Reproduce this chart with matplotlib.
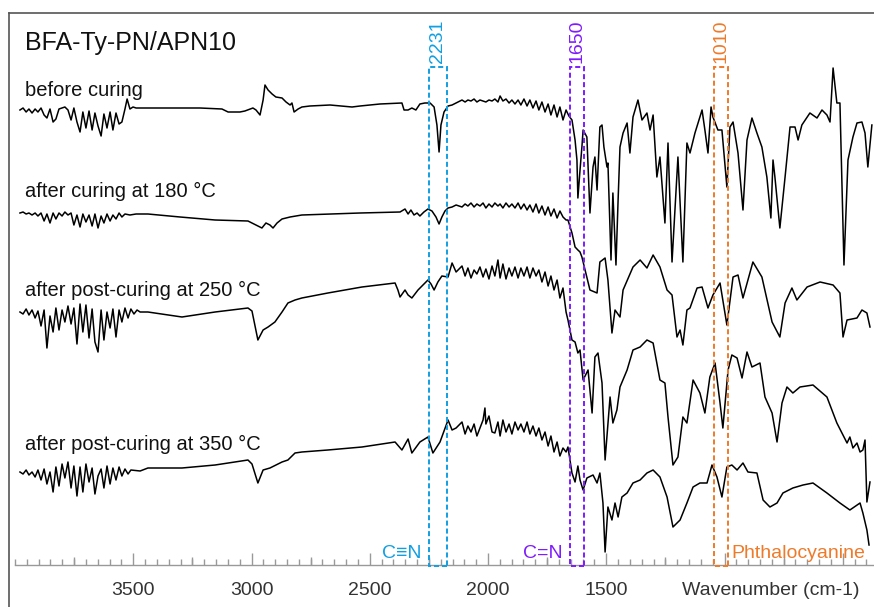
import numpy as np
import matplotlib.pyplot as plt
from matplotlib.patches import Rectangle
from matplotlib.lines import Line2D
from matplotlib.ticker import MultipleLocator

plt.rcParams['font.family'] = ['Liberation Sans', 'DejaVu Sans']

# spectra: (wavenumber, relative transmittance in a.u.)
before_curing = [
    (3979, 0), (3966, 2), (3953, -2), (3941, 1), (3928, -3), (3915, 1), (3903, -2), (3890, 2), (3877, -5), (3865, -8),
    (3852, 1), (3839, -12), (3827, -9), (3814, 1), (3801, 2), (3789, 3), (3776, 0), (3763, -10), (3751, 2), (3738, -12),
    (3725, -22), (3713, -2), (3700, -18), (3687, -1), (3674, -20), (3662, -3), (3649, -16), (3636, -26), (3624, -4), (3611, -18),
    (3598, -2), (3586, -20), (3573, -3), (3560, -14), (3548, -12), (3535, 1), (3526, 11), (3514, 1), (3501, 3), (3488, 2),
    (3429, 2), (3302, 2), (3218, 2), (3125, 1), (3099, -2), (3049, -2), (3028, -1), (3006, 1), (2994, 2), (2981, 0),
    (2964, -5), (2951, 10), (2943, 25), (2930, 20), (2913, 16), (2897, 13), (2871, 12), (2854, 8), (2837, 5), (2829, 7),
    (2820, -2), (2803, 1), (2787, 3), (2753, 4), (2668, 5), (2575, 3), (2541, 4), (2457, 6), (2364, 7), (2355, 0),
    (2338, 0), (2322, 2), (2305, 0), (2288, 6), (2267, 7), (2245, 7), (2228, 3), (2216, -15), (2207, -42), (2199, -15),
    (2186, -2), (2169, 4), (2152, 5), (2135, 7), (2110, 10), (2097, 8), (2085, 10), (2072, 9), (2059, 11), (2047, 8),
    (2034, 10), (2021, 9), (2009, 8), (1996, 10), (1983, 9), (1971, 11), (1958, 8), (1949, 14), (1937, 9), (1924, 11),
    (1911, 7), (1899, 10), (1886, 6), (1873, 10), (1861, 5), (1848, 11), (1835, 4), (1823, 10), (1810, 2), (1797, 9),
    (1785, 0), (1772, 8), (1759, -2), (1746, 6), (1734, -5), (1721, 5), (1708, -7), (1696, 3), (1683, -10), (1670, 0),
    (1658, -6), (1645, -10), (1632, -30), (1624, -50), (1620, -88), (1611, -60), (1603, -37), (1598, -20), (1582, -27), (1569, -103),
    (1556, -57), (1548, -47), (1539, -80), (1527, -17), (1518, -15), (1510, -37), (1497, -57), (1493, -53), (1480, -150), (1472, -83),
    (1459, -155), (1450, -90), (1442, -37), (1429, -23), (1412, -13), (1400, -43), (1387, -7), (1366, 10), (1349, -10), (1328, -3),
    (1315, -20), (1302, -5), (1286, -67), (1273, -47), (1252, -113), (1239, -33), (1222, -152), (1197, -47), (1176, -152), (1159, -33),
    (1146, -43), (1125, -23), (1095, 0), (1083, -20), (1070, -43), (1057, 3), (1049, -7), (1028, -20), (1011, -20), (990, -77),
    (977, -17), (964, -12), (943, -43), (922, -100), (905, -30), (884, -8), (863, -23), (842, -37), (821, -67), (804, -108),
    (795, -50), (787, -67), (766, -118), (744, -67), (723, -17), (702, -17), (689, -30), (673, -15), (639, -3), (609, -8),
    (588, 0), (567, -5), (554, -12), (541, 42), (525, 7), (512, 7), (495, -155), (478, -50), (457, -27), (440, -13),
    (419, -12), (406, -23), (394, -57), (377, -15),
]

cured_180 = [
    (3979, 0), (3966, 1), (3953, -1), (3941, 0), (3928, -2), (3915, 0), (3903, -3), (3890, 0), (3877, -8), (3865, -1),
    (3852, -10), (3839, 0), (3827, -6), (3814, 0), (3801, -3), (3789, 1), (3776, -2), (3763, 0), (3751, -12), (3738, -2),
    (3725, -14), (3713, -1), (3700, -9), (3687, -2), (3674, -13), (3662, -1), (3649, -15), (3636, -3), (3624, -10), (3611, -1),
    (3598, -8), (3586, -2), (3573, -6), (3560, 0), (3548, -4), (3535, -1), (3514, -2), (3488, -1), (3438, -1), (3302, -4),
    (3154, -7), (3015, -8), (2998, -10), (2956, -15), (2939, -10), (2922, -12), (2909, -15), (2892, -10), (2871, -6), (2837, -4),
    (2787, -2), (2668, -1), (2541, 0), (2372, 1), (2351, 4), (2338, -1), (2326, 3), (2313, -2), (2300, 0), (2288, -3),
    (2271, 1), (2254, 4), (2237, 2), (2220, -4), (2207, -11), (2195, -4), (2182, 2), (2169, 5), (2152, 6), (2135, 8),
    (2110, 6), (2097, 9), (2085, 7), (2072, 10), (2059, 6), (2047, 9), (2034, 7), (2021, 10), (2009, 5), (1996, 9),
    (1983, 6), (1971, 10), (1958, 7), (1949, 9), (1937, 5), (1924, 10), (1911, 6), (1899, 9), (1886, 5), (1873, 10),
    (1861, 4), (1848, 9), (1835, 3), (1823, 8), (1810, 1), (1797, 9), (1785, 0), (1772, 7), (1759, -2), (1746, 6),
    (1734, -3), (1721, 4), (1708, -5), (1696, 2), (1683, -4), (1670, -7), (1662, -7), (1645, -20), (1632, -34), (1620, -37),
    (1611, -39), (1603, -44), (1569, -77), (1539, -80), (1527, -49), (1505, -45), (1493, -67), (1476, -120), (1463, -97), (1442, -104),
    (1429, -77), (1387, -54), (1357, -47), (1328, -55), (1302, -42), (1273, -54), (1243, -77), (1222, -82), (1201, -124), (1188, -117),
    (1176, -132), (1159, -97), (1146, -95), (1116, -75), (1095, -74), (1070, -95), (1049, -82), (1019, -70), (990, -112), (964, -64),
    (943, -62), (922, -85), (880, -49), (842, -64), (799, -109), (766, -124), (744, -90), (715, -75), (694, -87), (651, -74),
    (596, -69), (541, -72), (512, -80), (499, -124), (482, -107), (440, -105), (419, -97), (398, -100), (385, -114),
]

postcured_250 = [
    (3979, 0), (3966, -2), (3953, 3), (3941, -3), (3928, 2), (3915, -6), (3903, 1), (3890, -14), (3877, 2), (3865, -36),
    (3852, -4), (3839, -20), (3827, 4), (3814, -18), (3801, 2), (3789, -10), (3776, 6), (3763, -12), (3751, 4), (3738, -32),
    (3725, 8), (3713, -20), (3700, 7), (3687, -26), (3674, 3), (3662, -30), (3649, -40), (3636, 2), (3624, -28), (3611, 0),
    (3598, -16), (3586, 3), (3573, -25), (3560, 2), (3548, -10), (3535, 4), (3522, -6), (3510, 3), (3497, -2), (3484, 2),
    (3471, 0), (3438, 0), (3294, -5), (3154, 0), (3015, 4), (2998, 1), (2973, -28), (2951, -18), (2930, -15), (2901, -10),
    (2871, 0), (2846, 9), (2816, 12), (2787, 14), (2677, 19), (2533, 25), (2393, 29), (2381, 22), (2372, 15), (2351, 22),
    (2338, 17), (2322, 14), (2296, 22), (2271, 28), (2254, 32), (2241, 28), (2228, 22), (2212, 30), (2195, 36), (2169, 35),
    (2152, 49), (2135, 40), (2110, 46), (2097, 36), (2085, 44), (2072, 34), (2059, 42), (2047, 38), (2034, 45), (2021, 35),
    (2009, 43), (1996, 33), (1983, 46), (1971, 36), (1958, 52), (1949, 34), (1937, 48), (1924, 33), (1911, 44), (1899, 36),
    (1886, 45), (1873, 34), (1861, 44), (1848, 36), (1835, 45), (1823, 34), (1810, 44), (1797, 36), (1785, 42), (1772, 30),
    (1759, 40), (1746, 26), (1734, 36), (1721, 22), (1708, 32), (1696, 14), (1683, 24), (1670, 0), (1662, -8), (1645, -28),
    (1632, -30), (1620, -41), (1611, -38), (1598, -68), (1577, -58), (1560, -101), (1548, -45), (1535, -41), (1518, -71), (1505, -148),
    (1484, -85), (1472, -111), (1455, -98), (1442, -75), (1412, -58), (1387, -38), (1357, -35), (1328, -28), (1302, -31), (1273, -68),
    (1252, -71), (1239, -105), (1218, -153), (1197, -145), (1176, -105), (1159, -111), (1133, -68), (1104, -81), (1083, -101), (1062, -65),
    (1040, -51), (1019, -91), (1007, -116), (985, -58), (969, -43), (947, -46), (926, -66), (905, -40), (884, -55), (850, -51),
    (829, -85), (799, -101), (778, -130), (757, -91), (736, -75), (711, -81), (681, -75), (626, -73), (567, -85), (525, -111),
    (482, -131), (470, -125), (457, -136), (440, -131), (427, -140), (415, -138), (406, -128), (398, -190), (385, -170),
]

postcured_350 = [
    (3979, 0), (3966, -2), (3953, 2), (3941, -3), (3928, 0), (3915, -5), (3903, 2), (3890, -8), (3877, 3), (3865, -12),
    (3852, 0), (3839, -20), (3827, 5), (3814, -14), (3801, 8), (3789, -6), (3776, 10), (3763, -16), (3751, 6), (3738, -24),
    (3725, 5), (3713, -20), (3700, 8), (3687, -10), (3674, 4), (3662, -22), (3649, -4), (3636, 3), (3624, -16), (3611, 6),
    (3598, -12), (3586, 4), (3573, -8), (3560, 5), (3548, -4), (3535, 3), (3522, -2), (3510, 2), (3471, 1), (3438, 4),
    (3294, 4), (3154, 7), (3015, 12), (2998, 8), (2973, -11), (2951, 2), (2922, 4), (2871, 10), (2846, 12), (2816, 19),
    (2787, 20), (2677, 22), (2533, 25), (2393, 30), (2364, 22), (2338, 33), (2322, 19), (2288, 30), (2254, 35), (2233, 19),
    (2203, 30), (2169, 52), (2152, 42), (2135, 44), (2110, 50), (2097, 38), (2085, 46), (2072, 40), (2059, 48), (2047, 36),
    (2034, 44), (2021, 52), (2013, 64), (2009, 48), (1996, 56), (1983, 40), (1971, 39), (1958, 50), (1949, 36), (1937, 52),
    (1924, 40), (1911, 48), (1899, 38), (1886, 50), (1873, 42), (1861, 48), (1848, 40), (1835, 50), (1823, 38), (1810, 46),
    (1797, 36), (1785, 44), (1772, 32), (1759, 40), (1746, 26), (1734, 36), (1721, 20), (1708, 30), (1696, 16), (1683, 24),
    (1670, 20), (1662, 25), (1645, -1), (1632, -10), (1620, 6), (1611, -8), (1598, -18), (1582, -6), (1556, -3), (1539, -11),
    (1527, -1), (1514, -31), (1505, -80), (1493, -35), (1476, -48), (1463, -31), (1450, -45), (1434, -25), (1412, -21), (1387, -11),
    (1357, -8), (1328, -1), (1302, 2), (1273, -5), (1243, -25), (1218, -55), (1188, -48), (1159, -31), (1133, -15), (1104, -11),
    (1074, -11), (1053, 7), (1032, -5), (1011, -25), (990, 5), (969, 7), (947, 2), (922, 9), (901, 0), (863, -1),
    (837, -28), (808, -35), (778, -31), (753, -21), (711, -16), (668, -13), (626, -11), (567, -21), (512, -31), (470, -38),
    (427, -31), (415, -41), (398, -58), (389, -73),
]

spectra = [before_curing, cured_180, postcured_250, postcured_350]
sample_labels = ["before curing", "after curing at 180 °C",
                 "after post-curing at 250 °C", "after post-curing at 350 °C"]
offsets = [-110, -213, -312, -472]
label_y = [-96, -197, -296, -450]

# marked bands
band_numbers = ["2231", "1650", "1010"]
band_hi = [2250, 1653, 1044]
band_lo = [2174, 1594, 985]
band_groups = ["C≡N", "C=N", "Phthalocyanine"]
band_colors = ["#119FE3", "#7F1BFF", "#EE7A2A"]

fig = plt.figure(figsize=(8.74, 6.07), dpi=100)
ax = fig.add_axes([15 / 874, 42 / 607, 859 / 874, 552 / 607])
ax.set_xlim(4000, 368)
ax.set_ylim(-565, -13)

for data, off in zip(spectra, offsets):
    arr = np.array(data, dtype=float)
    ax.plot(arr[:, 0], arr[:, 1] + off, color="black", lw=1.1)

for name, y in zip(sample_labels, label_y):
    ax.text(3958, y, name, fontsize=14.5, color="#111111", va="baseline", ha="left")
ax.text(3958, -50, "BFA-Ty-PN/APN10", fontsize=18, color="#111111", va="baseline", ha="left")

for num, hi, lo, grp, c in zip(band_numbers, band_hi, band_lo, band_groups, band_colors):
    ax.add_patch(Rectangle((lo, -565.5), hi - lo, 565.5 - 67, fill=False, edgecolor=c,
                           lw=1.4, ls=(0, (2.6, 1.5)), clip_on=False, zorder=3))
    ax.text((hi + lo) / 2, -63, num, rotation=90, ha="center", va="bottom", fontsize=14, color=c)
    if grp == "Phthalocyanine":
        ax.text(lo - 12, -558, grp, ha="left", va="baseline", fontsize=14, color=c)
    else:
        ax.text(hi + 32, -558, grp, ha="right", va="baseline", fontsize=14, color=c)

# axis styling
for side in ["top", "right", "left"]:
    ax.spines[side].set_visible(False)
ax.spines["bottom"].set_color("#999999")
ax.spines["bottom"].set_linewidth(1.0)
ax.set_yticks([])
ax.set_xticks([3500, 3000, 2500, 2000, 1500, 1000, 500],
              labels=["3500", "3000", "2500", "2000", "1500", "", ""])
ax.xaxis.set_minor_locator(MultipleLocator(50))
ax.tick_params(axis="x", which="major", direction="in", length=9, width=1, color="#999999",
               labelsize=14, labelcolor="#333333", pad=12)
ax.tick_params(axis="x", which="minor", direction="in", length=4, width=1, color="#999999")
sec = ax.secondary_xaxis("bottom")
sec.set_xticks([3750, 3250, 2750, 2250, 1750, 1250, 750])
sec.tick_params(direction="in", length=6, width=1, color="#999999", labelbottom=False)
sec.spines["bottom"].set_visible(False)
ax.text(1178, -595, "Wavenumber (cm-1)", fontsize=14, color="#333333", ha="left", va="baseline",
        clip_on=False)

# outer frame (top and left edge)
fig.add_artist(Line2D([9 / 874, 1], [1 - 13 / 607] * 2, color="#555555", lw=1.2))
fig.add_artist(Line2D([9 / 874] * 2, [0, 1 - 13 / 607], color="#555555", lw=1.2))

fig.savefig("out.png", dpi=100, facecolor="white")
